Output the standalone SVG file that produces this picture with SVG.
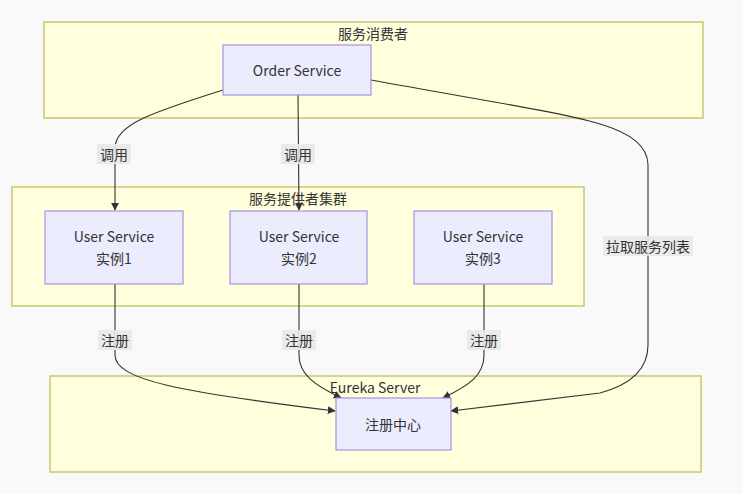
<svg xmlns="http://www.w3.org/2000/svg" width="743" height="494" viewBox="0 0 743 494">
<style>
.bg{fill:#f9f9f9}
.cl{fill:#ffffde;stroke:#c8c86e;stroke-width:1.5}
.nd{fill:#ececff;stroke:#a98fe0;stroke-width:1.2}
.t{font-family:"Noto Sans CJK SC","Noto Sans",sans-serif;font-size:14px;fill:#333;text-anchor:middle;dominant-baseline:central}
.e{fill:none;stroke:#333;stroke-width:1.1}
.lb{fill:#e8e8e8;opacity:0.9}
</style>
<defs>
<marker id="ah" viewBox="0 0 10 10" refX="9" refY="5" markerWidth="8" markerHeight="8" orient="auto" markerUnits="userSpaceOnUse">
<path d="M0,0 L10,5 L0,10 z" fill="#333"/>
</marker>
</defs>
<rect class="bg" x="0" y="0" width="743" height="494"/>
<g id="cluster-consumer">
<rect class="cl" x="44" y="22" width="659" height="96"/>
<text class="t" x="373" y="33">服务消费者</text>
</g>
<g id="cluster-provider">
<rect class="cl" x="12" y="187" width="572" height="119"/>
<text class="t" x="298" y="198">服务提供者集群</text>
</g>
<g id="cluster-eureka">
<rect class="cl" x="50" y="376" width="651" height="96"/>
<text class="t" x="375" y="387">Eureka Server</text>
</g>
<g id="connectors">
<path class="e" d="M223,90 C150,113 115,125 115,148 L115,210" marker-end="url(#ah)"/>
<path class="e" d="M298,95 L299,210" marker-end="url(#ah)"/>
<path class="e" d="M371,80 C480,100 560,112 600,124 Q648,138 648,165 L648,345 Q648,380 600,393 L451,411" marker-end="url(#ah)"/>
<path class="e" d="M115,284 L115,355 C115,380 180,392 335,411" marker-end="url(#ah)"/>
<path class="e" d="M299,284 L299,355 C299,375 315,385 341,398" marker-end="url(#ah)"/>
<path class="e" d="M484,284 L484,355 C484,375 470,385 443,398" marker-end="url(#ah)"/>
<rect class="lb" x="97" y="144" width="34" height="20"/>
<text class="t" x="114" y="154">调用</text>
<rect class="lb" x="281" y="144" width="34" height="20"/>
<text class="t" x="298" y="154">调用</text>
<rect class="lb" x="603" y="236" width="90" height="20"/>
<text class="t" x="648" y="246">拉取服务列表</text>
<rect class="lb" x="98" y="330" width="34" height="20"/>
<text class="t" x="115" y="340">注册</text>
<rect class="lb" x="282" y="330" width="34" height="20"/>
<text class="t" x="299" y="340">注册</text>
<rect class="lb" x="467" y="330" width="34" height="20"/>
<text class="t" x="484" y="340">注册</text>
</g>
<g id="order">
<rect class="nd" x="223" y="45" width="148" height="50"/>
<text class="t" x="297" y="70">Order Service</text>
</g>
<g id="user1">
<rect class="nd" x="45" y="211" width="138" height="73"/>
<text class="t" x="114" y="236">User Service</text>
<text class="t" x="114" y="258">实例1</text>
</g>
<g id="user2">
<rect class="nd" x="230" y="211" width="137" height="73"/>
<text class="t" x="299" y="236">User Service</text>
<text class="t" x="299" y="258">实例2</text>
</g>
<g id="user3">
<rect class="nd" x="414" y="211" width="138" height="73"/>
<text class="t" x="483" y="236">User Service</text>
<text class="t" x="483" y="258">实例3</text>
</g>
<g id="registry">
<rect class="nd" x="336" y="398" width="115" height="52"/>
<text class="t" x="393" y="424">注册中心</text>
</g>
</svg>
